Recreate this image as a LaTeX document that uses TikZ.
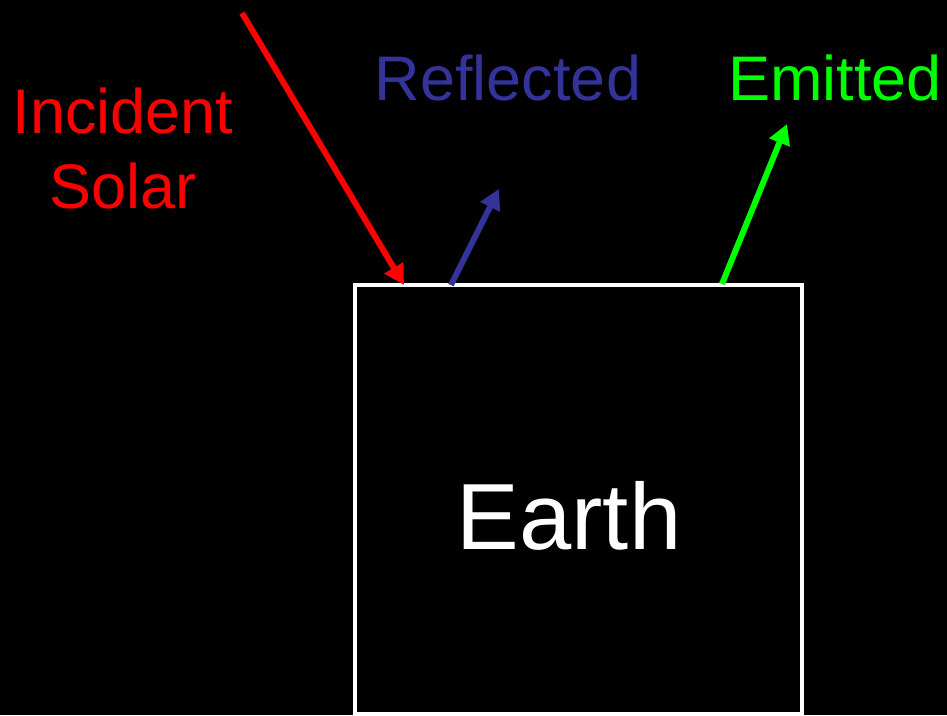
\documentclass[tikz,border=0pt]{standalone}
\usepackage{fontspec}
\setmainfont{Liberation Sans}
\usetikzlibrary{arrows.meta}
\definecolor{refblue}{HTML}{333399}
\definecolor{emgreen}{HTML}{00FF00}
\begin{document}
\begin{tikzpicture}[x=1pt,y=-1pt,
  lbl/.style={anchor=base,inner sep=0pt,font=\fontsize{63}{75}\selectfont},
  ray/.style={line width=6pt,-{Triangle[length=20pt,width=21pt]}}]
\fill[black] (0,0) rectangle (947,715);
\useasboundingbox (0,0) rectangle (947,715);
\begin{scope}
\clip (0,0) rectangle (947,715);
\draw[white,line width=3.5pt] (355,285) rectangle (802,714);
\end{scope}
\node[lbl,white,font=\fontsize{94}{110}\selectfont] (earth) at (569,549) {Earth};
\node[lbl,red] (inc) at (123,133) {Incident};
\node[lbl,red] (sol) at (123,208) {Solar};
\node[lbl,refblue] (refl) at (508,100) {Reflected};
\node[lbl,emgreen] (emit) at (835,100) {Emitted};
\coordinate (r0) at (242,13);
\coordinate (r1) at (404,285);
\coordinate (b0) at (451,285);
\coordinate (b1) at (499,189);
\coordinate (g0) at (722,284);
\coordinate (g1) at (787,124);
\draw[ray,red] (r0) -- (r1);
\draw[ray,refblue] (b0) -- (b1);
\draw[ray,emgreen] (g0) -- (g1);
\end{tikzpicture}
\end{document}
